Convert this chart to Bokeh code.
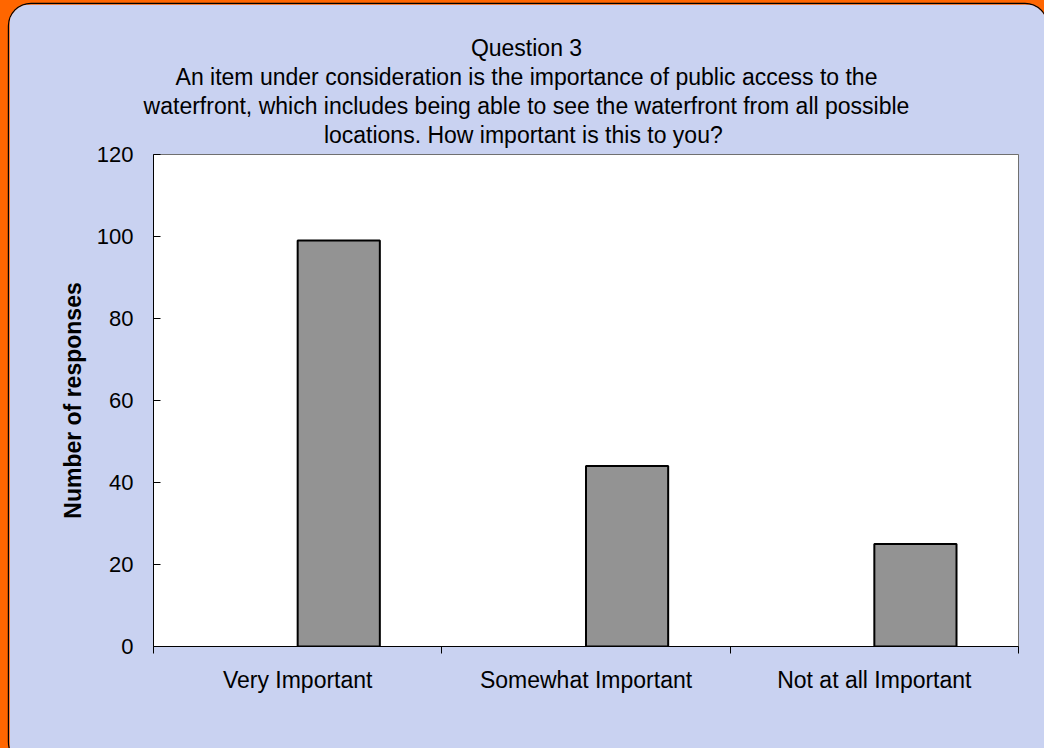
import numpy as np
from bokeh.plotting import figure
from bokeh.models import Range1d, FixedTicker, Label, ColumnDataSource
from bokeh.embed import file_html
from bokeh.resources import INLINE

# ---- data ----
categories = ["Very Important", "Somewhat Important", "Not at all Important"]
responses = [99, 44, 25]
y_ticks = [0, 20, 40, 60, 80, 100, 120]
title_lines = [
    "Question 3",
    "An item under consideration is the importance of public access to the",
    "waterfront, which includes being able to see the waterfront from all possible",
    "locations.  How important is this to you?",
]
y_label = "Number of responses"

FONT = "Liberation Sans"
PANEL = "#c9d2f1"
BAR_W = 0.285
PW, PH = 1038, 760

p = figure(width=PW, height=PH, output_backend="svg", toolbar_location=None,
           x_range=Range1d(0, len(categories)), y_range=Range1d(0, 120),
           min_border_left=144, min_border_right=PW + 9 - 1018,
           min_border_top=150, min_border_bottom=PH + 4 - 646)
p.styles = {"margin-left": "9px", "margin-top": "4px", "border-radius": "22px",
            "overflow": "hidden", "position": "relative",
            "box-shadow": "0 0 0 1.2px #000000"}

p.border_fill_color = PANEL
p.background_fill_color = "white"
p.outline_line_color = "#707070"
p.outline_line_width = 1
p.xgrid.visible = False
p.ygrid.visible = False

idx = np.arange(len(categories))
src = ColumnDataSource(dict(x=idx + 0.5 + BAR_W / 2, top=responses, cat=categories))
p.vbar(x="x", top="top", bottom=0, width=BAR_W, source=src,
       fill_color="#939393", line_color="black", line_width=2)

xa = p.xaxis[0]
xa.ticker = FixedTicker(ticks=list(idx + 0.5), minor_ticks=list(range(len(categories) + 1)))
xa.major_label_overrides = {float(i + 0.5): c for i, c in enumerate(categories)}
xa.major_tick_out = 0
xa.major_tick_in = 0
xa.minor_tick_out = 7
xa.minor_tick_in = 0
xa.minor_tick_line_color = "black"
xa.axis_line_color = "black"
xa.major_label_standoff = 13
xa.major_label_text_font = FONT
xa.major_label_text_font_size = "23px"
xa.major_label_text_color = "black"

ya = p.yaxis[0]
ya.ticker = FixedTicker(ticks=y_ticks)
ya.major_tick_in = 7
ya.major_tick_out = 0
ya.minor_tick_line_color = None
ya.axis_line_color = "black"
ya.major_tick_line_color = "black"
ya.major_label_standoff = 20
ya.major_label_text_font = FONT
ya.major_label_text_font_size = "22px"
ya.major_label_text_color = "black"
ya.axis_label = y_label
ya.axis_label_text_font = FONT
ya.axis_label_text_font_style = "bold"
ya.axis_label_text_font_size = "23px"
ya.axis_label_text_color = "black"
ya.axis_label_standoff = 8

# title lines in canvas units (figure's top-left origin), placed in the "above" panel
for i, line in enumerate(title_lines):
    p.add_layout(Label(x=526 - 9, y=43 + 29.3 * i, x_units="canvas", y_units="canvas",
                       text=line, text_align="center", text_baseline="middle",
                       text_font=FONT, text_font_size="23px", text_color="black"),
                 "above")

html = file_html(p, INLINE, title="Question 3")
html = html.replace("<head>", "<head><style>html,body{margin:0;padding:0;overflow:hidden;background:#ff6600}</style>", 1)
open("out.html", "w").write(html)
